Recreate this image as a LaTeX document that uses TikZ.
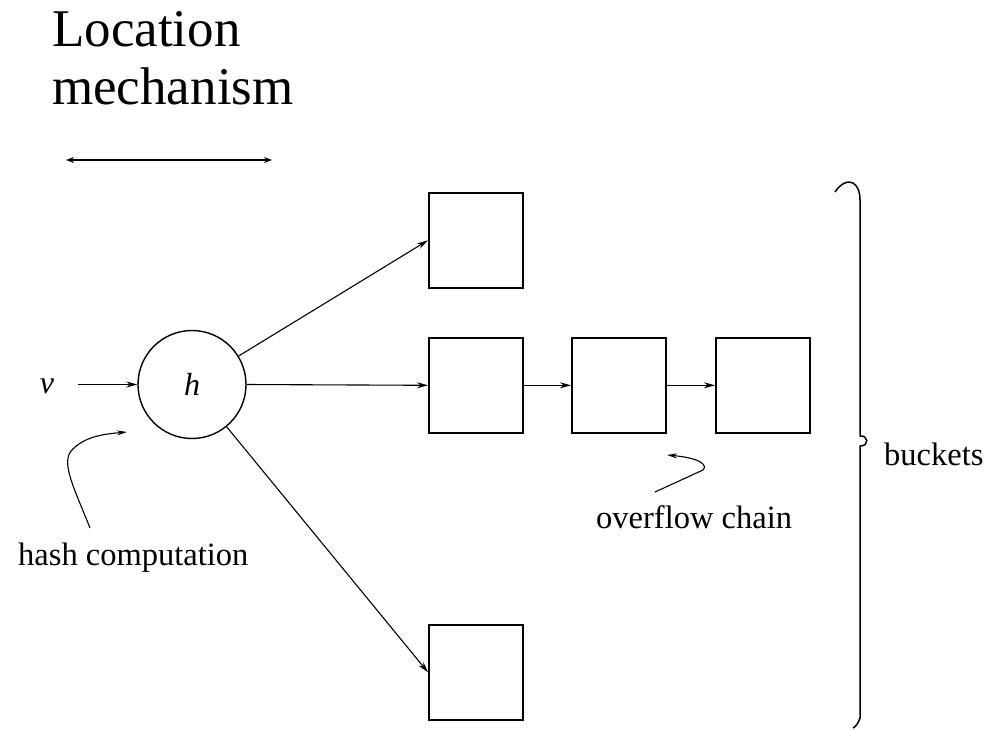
\documentclass[tikz,border=0pt]{standalone}
\usepackage{fontspec}
\setmainfont{Liberation Serif}
\usetikzlibrary{arrows.meta}
\begin{document}
\begin{tikzpicture}[x=1pt,y=-1pt,
  bucket/.style={draw,line width=1.6pt,minimum width=94pt,minimum height=95pt,inner sep=0pt,anchor=north west},
  hashfn/.style={draw,circle,line width=1.4pt,minimum size=108pt,inner sep=0pt},
  label/.style={font=\fontsize{32.5}{36}\selectfont,inner sep=0pt},
  title/.style={font=\fontsize{53}{60}\selectfont,inner sep=0pt,anchor=base west},
  link/.style={line width=1.1pt,-{Stealth[length=11pt,width=6pt]}},
  curl/.style={line width=1.1pt}]
\useasboundingbox (0,0) rectangle (1001,729);

% heading
\node[title] (t1) at (52,46) {Location};
\node[title] (t2) at (52,104) {mechanism};
\coordinate (rl) at (66,160);
\coordinate (rr) at (272,160);
\draw[line width=1.8pt,{Stealth[length=8pt,width=6pt]}-{Stealth[length=8pt,width=6pt]}] (rl) -- (rr);

% hash function
\node[hashfn] (h) at (192,384.5) {\fontsize{32}{36}\selectfont\itshape h};
\node[label,font=\fontsize{32}{36}\selectfont\itshape,anchor=base] (v) at (47,393) {v};
\coordinate (vs) at (78,384.5);
\draw[link] (vs) -- (h.west);

% buckets
\node[bucket] (b1) at (428,192) {};
\node[bucket] (b2) at (428,337) {};
\node[bucket] (b3) at (571,337) {};
\node[bucket] (b4) at (715,337) {};
\node[bucket] (b5) at (428,624) {};

\draw[link] (h) -- (b1.west);
\draw[link] (h.east) -- (b2.west);
\draw[link] (h) -- (b5.west);
\draw[link] (b2.east) -- (b3.west);
\draw[link] (b3.east) -- (b4.west);

% labels with pointers
\node[label,anchor=base west] (hc) at (18,565) {hash computation};
\coordinate (hc0) at (90,528);
\coordinate (hc1) at (127,432);
\draw[curl,-{Stealth[length=10pt,width=5pt]}] (hc0) .. controls (75,490) and (60,462) .. (72,450) .. controls (85,436) and (105,434) .. (hc1);

\node[label,anchor=base west] (oc) at (596,528) {overflow chain};
\coordinate (oc0) at (655,492);
\coordinate (oc1) at (667,455);
\draw[curl,-{Stealth[length=10pt,width=5pt]}] (oc0) -- (703,470) .. controls (708,465) and (700,458) .. (oc1);

% bracket grouping the buckets
\draw[line width=1.5pt] (835,192) .. controls (840,184) and (848,180) .. (853,183)
  .. controls (858,186) and (860,192) .. (860,200) -- (860,436)
  .. controls (868,435) and (870,446) .. (860,446) -- (860,718)
  .. controls (858,724) and (855,727) .. (853,728);
\node[label,anchor=base west] (bk) at (884,465) {buckets};
\end{tikzpicture}
\end{document}
